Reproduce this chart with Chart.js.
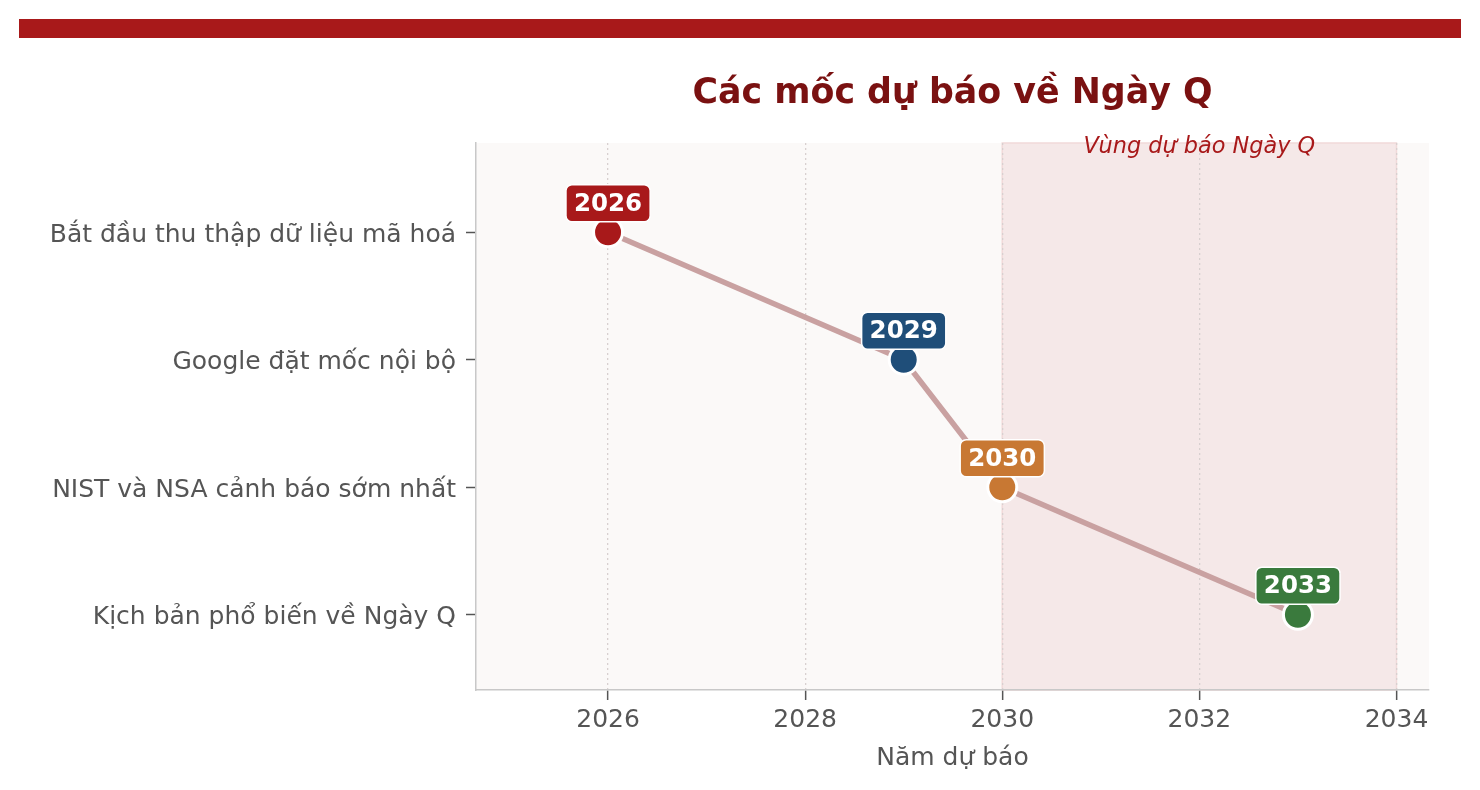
<!DOCTYPE html>
<html>
<head>
<meta charset="utf-8">
<script src="https://cdn.jsdelivr.net/npm/chart.js@4/dist/chart.umd.min.js"></script>
<style>
  html, body { margin: 0; padding: 0; background: #ffffff; }
  #c { display: block; }
</style>
</head>
<body>
<canvas id="c" width="1480" height="790"></canvas>
<script>
// ---- data ----
const categories = [
  "Bắt đầu thu thập dữ liệu mã hoá",
  "Google đặt mốc nội bộ",
  "NIST và NSA cảnh báo sớm nhất",
  "Kịch bản phổ biến về Ngày Q"
];
const years = [2026, 2029, 2030, 2033];
const pointColors = ["#a8191a", "#1f4e79", "#c87833", "#3a7a3d"];
const xTicks = [2026, 2028, 2030, 2032, 2034];
const zoneStart = 2030;
const zoneEnd = 2034;
const zoneLabel = "Vùng dự báo Ngày Q";
const titleText = "Các mốc dự báo về Ngày Q";
const xTitle = "Năm dự báo";

const FONT = '"DejaVu Sans", "Noto Sans", sans-serif';

const decorPlugin = {
  id: 'decor',
  beforeDraw(chart) {
    const { ctx, chartArea: a, scales: { x } } = chart;
    ctx.save();
    ctx.fillStyle = '#a8191a';
    ctx.fillRect(19, 19, 1442, 19);
    ctx.fillStyle = '#7a1111';
    ctx.font = 'bold 34.8px ' + FONT;
    ctx.textAlign = 'center';
    ctx.textBaseline = 'alphabetic';
    ctx.fillText(titleText, (a.left + a.right) / 2, 103);
    ctx.fillStyle = '#fbf9f8';
    ctx.fillRect(a.left, a.top, a.right - a.left, a.bottom - a.top);
    const x0 = x.getPixelForValue(zoneStart), x1 = x.getPixelForValue(zoneEnd);
    ctx.fillStyle = '#f5e8e8';
    ctx.fillRect(x0, a.top, x1 - x0, a.bottom - a.top);
    ctx.strokeStyle = '#f1d9d9';
    ctx.lineWidth = 1.5;
    ctx.strokeRect(x0, a.top, x1 - x0, a.bottom - a.top);
    ctx.restore();
  },
  afterDatasetsDraw(chart) {
    const { ctx } = chart;
    const meta = chart.getDatasetMeta(0);
    ctx.save();
    ctx.font = 'bold 24.5px ' + FONT;
    ctx.textAlign = 'center';
    ctx.textBaseline = 'middle';
    meta.data.forEach((pt, i) => {
      const label = String(years[i]);
      const w = ctx.measureText(label).width + 16;
      const h = 37;
      const cx = pt.x, cy = pt.y - 29;
      ctx.beginPath();
      ctx.roundRect(cx - w / 2, cy - h / 2, w, h, 6);
      ctx.fillStyle = pointColors[i];
      ctx.fill();
      ctx.strokeStyle = '#ffffff';
      ctx.lineWidth = 1.5;
      ctx.stroke();
      ctx.fillStyle = '#ffffff';
      ctx.fillText(label, cx, cy + 1);
    });
    ctx.restore();
  },
  afterDraw(chart) {
    const { ctx, scales: { x } } = chart;
    ctx.save();
    ctx.fillStyle = '#a8191a';
    ctx.font = 'italic 22.4px ' + FONT;
    ctx.textAlign = 'center';
    ctx.textBaseline = 'alphabetic';
    ctx.fillText(zoneLabel, x.getPixelForValue((zoneStart + zoneEnd) / 2), 153);
    ctx.restore();
  }
};

new Chart(document.getElementById('c'), {
  type: 'line',
  data: {
    datasets: [{
      data: years.map((y, i) => ({ x: y, y: i })),
      borderColor: '#c9a1a1',
      borderWidth: 5.5,
      pointRadius: 14.5,
      pointHoverRadius: 14.5,
      pointBackgroundColor: pointColors,
      pointBorderColor: '#ffffff',
      pointBorderWidth: 3,
      tension: 0,
      fill: false
    }]
  },
  options: {
    responsive: false,
    animation: false,
    devicePixelRatio: 1,
    layout: { padding: { left: 0, right: 51, top: 143, bottom: 0 } },
    plugins: { legend: { display: false }, tooltip: { enabled: false }, title: { display: false } },
    scales: {
      x: {
        type: 'linear',
        min: 2024.66,
        max: 2034.33,
        afterBuildTicks: (s) => { s.ticks = xTicks.map(v => ({ value: v })); },
        afterFit: (s) => { s.height = 100; },
        ticks: {
          color: '#555555',
          font: { family: FONT, size: 25 },
          padding: 5,
          maxRotation: 0,
          callback: (v) => String(v)
        },
        grid: {
          display: true,
          drawOnChartArea: true,
          drawTicks: true,
          color: '#d8d0d0',
          lineWidth: 1.3,
          tickColor: '#555555',
          tickLength: 10,
          tickWidth: 1.5
        },
        border: { display: true, color: '#c8c8c8', width: 1.5, dash: [2, 3] },
        title: {
          display: true,
          text: xTitle,
          color: '#555555',
          font: { family: FONT, size: 25 },
          padding: { top: 0, bottom: 17 }
        }
      },
      y: {
        type: 'linear',
        reverse: true,
        min: -0.7,
        max: 3.59,
        afterBuildTicks: (s) => { s.ticks = categories.map((c, i) => ({ value: i })); },
        afterFit: (s) => { s.width = 476; },
        ticks: {
          color: '#555555',
          font: { family: FONT, size: 25 },
          padding: 10,
          labelOffset: 3,
          callback: (v) => categories[v] !== undefined ? categories[v] : ''
        },
        grid: {
          display: true,
          drawOnChartArea: false,
          drawTicks: true,
          tickColor: '#555555',
          tickLength: 10,
          tickWidth: 1.5
        },
        border: { display: true, color: '#c8c8c8', width: 1.5 }
      }
    }
  },
  plugins: [decorPlugin]
});
</script>
</body>
</html>
